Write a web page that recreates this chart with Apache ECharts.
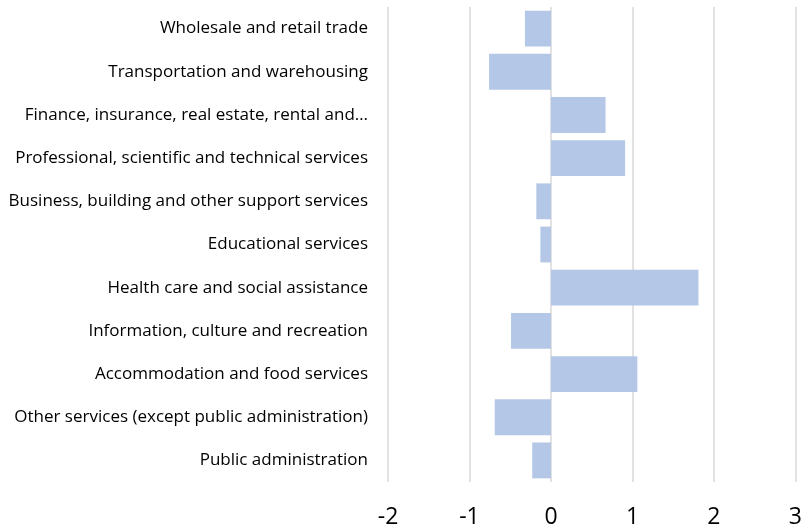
<!DOCTYPE html>
<html>
<head>
<meta charset="utf-8">
<script src="https://cdn.jsdelivr.net/npm/echarts@6/dist/echarts.min.js"></script>
<style>html,body{margin:0;padding:0;background:#fff}#c{width:805px;height:530px}</style>
</head>
<body>
<div id="c"></div>
<script>
const categories = [
  "Wholesale and retail trade",
  "Transportation and warehousing",
  "Finance, insurance, real estate, rental and…",
  "Professional, scientific and technical services",
  "Business, building and other support services",
  "Educational services",
  "Health care and social assistance",
  "Information, culture and recreation",
  "Accommodation and food services",
  "Other services (except public administration)",
  "Public administration"
];
const values = [-0.32, -0.76, 0.67, 0.91, -0.18, -0.13, 1.81, -0.49, 1.06, -0.69, -0.23];
const xTicks = [-2, -1, 0, 1, 2, 3];

const chart = echarts.init(document.getElementById('c'), null, {renderer: 'canvas'});
chart.setOption({
  animation: false,
  grid: {left: 388, right: 8, top: 7, bottom: 48, containLabel: false},
  xAxis: {
    type: 'value', min: xTicks[0], max: xTicks[xTicks.length - 1], interval: 1,
    axisLine: {show: false}, axisTick: {show: false},
    splitLine: {show: true, lineStyle: {color: '#d9d9d9', width: 1.5}},
    axisLabel: {fontSize: 23, color: '#000', margin: 24, fontFamily: 'Open Sans'}
  },
  yAxis: {
    type: 'category', data: categories, inverse: true,
    axisLine: {show: false}, axisTick: {show: false},
    axisLabel: {fontSize: 17, color: '#000', margin: 20, fontFamily: 'Open Sans'}
  },
  series: [{
    type: 'bar', data: values, barCategoryGap: '17%',
    itemStyle: {color: '#b4c7e7'}
  }]
});
</script>
</body>
</html>
